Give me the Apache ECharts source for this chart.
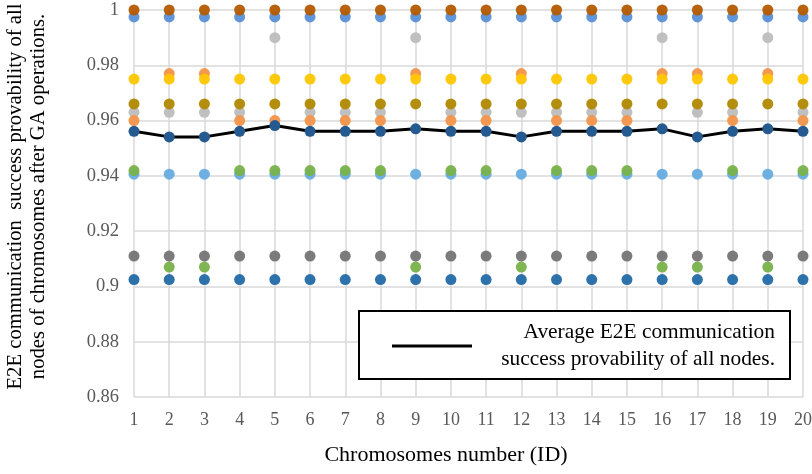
<!DOCTYPE html>
<html>
<head>
<meta charset="utf-8">
<script src="https://cdn.jsdelivr.net/npm/echarts@6/dist/echarts.min.js"></script>
<style>html,body{margin:0;padding:0;background:#fff}#c{width:812px;height:474px}</style>
</head>
<body>
<div id="c"></div>
<script>
const chromosomes = [1,2,3,4,5,6,7,8,9,10,11,12,13,14,15,16,17,18,19,20];
const xTicks = {min: 1, max: 20, interval: 1};
const yTicks = {min: 0.86, max: 1, interval: 0.02};

const seriesTopBlue   = [0.9975,0.9975,0.9975,0.9975,0.9975,0.9975,0.9975,0.9975,0.9975,0.9975,0.9975,0.9975,0.9975,0.9975,0.9975,0.9975,0.9975,0.9975,0.9975,0.9975];
const seriesDarkOrange= [1,1,1,1,1,1,1,1,1,1,1,1,1,1,1,1,1,1,1,1];
const seriesLightGray = [0.963,0.963,0.963,0.963,0.99,0.963,0.963,0.963,0.99,0.963,0.963,0.963,0.963,0.963,0.963,0.99,0.963,0.963,0.99,0.963];
const seriesOrange    = [0.96,0.977,0.977,0.96,0.96,0.96,0.96,0.96,0.977,0.96,0.96,0.977,0.96,0.96,0.96,0.977,0.977,0.96,0.977,0.96];
const seriesOlive     = [0.966,0.966,0.966,0.966,0.966,0.966,0.966,0.966,0.966,0.966,0.966,0.966,0.966,0.966,0.966,0.966,0.966,0.966,0.966,0.966];
const seriesYellow    = [0.975,0.975,0.975,0.975,0.975,0.975,0.975,0.975,0.975,0.975,0.975,0.975,0.975,0.975,0.975,0.975,0.975,0.975,0.975,0.975];
const seriesLightBlue = [0.9406,0.9406,0.9406,0.9406,0.9406,0.9406,0.9406,0.9406,0.9406,0.9406,0.9406,0.9406,0.9406,0.9406,0.9406,0.9406,0.9406,0.9406,0.9406,0.9406];
const seriesGreen     = [0.9419,0.907,0.907,0.9419,0.9419,0.9419,0.9419,0.9419,0.907,0.9419,0.9419,0.907,0.9419,0.9419,0.9419,0.907,0.907,0.9419,0.907,0.9419];
const seriesDarkGray  = [0.911,0.911,0.911,0.911,0.911,0.911,0.911,0.911,0.911,0.911,0.911,0.911,0.911,0.911,0.911,0.911,0.911,0.911,0.911,0.911];
const seriesDarkBlue  = [0.9025,0.9025,0.9025,0.9025,0.9025,0.9025,0.9025,0.9025,0.9025,0.9025,0.9025,0.9025,0.9025,0.9025,0.9025,0.9025,0.9025,0.9025,0.9025,0.9025];
const seriesAverage   = [0.9561,0.9541,0.9541,0.9561,0.9582,0.9561,0.9561,0.9561,0.957,0.9561,0.9561,0.9541,0.9561,0.9561,0.9561,0.957,0.9541,0.9561,0.957,0.9561];

const avgName = 'Average E2E communication\nsuccess provability of all nodes.';
const yTitle = 'E2E communication  success provability of all\nnodes of chromosomes after GA operations.';
const xTitle = 'Chromosomes number (ID)';

const FONT = '"Liberation Serif", "DejaVu Serif", serif';
function pts(arr){ return arr.map((v,i)=>[chromosomes[i], v]); }
function scatter(name, arr, color){
  return {name, type:'scatter', data: pts(arr), symbolSize: 11,
    itemStyle:{color, opacity: 0.95}, silent:true};
}
const chart = echarts.init(document.getElementById('c'), null, {renderer:'canvas'});
chart.setOption({
  animation:false,
  backgroundColor:'#fff',
  grid:{left:134, right:9, top:10, bottom:77, containLabel:false, outerBoundsMode:'none'},
  xAxis:{type:'value', min:xTicks.min, max:xTicks.max, interval:xTicks.interval,
    axisLine:{show:false}, axisTick:{show:false},
    splitLine:{show:true, lineStyle:{color:'#d9d9d9', width:1.5}},
    axisLabel:{color:'#595959', fontFamily:FONT, fontSize:18, margin:14}},
  yAxis:{type:'value', min:yTicks.min, max:yTicks.max, interval:yTicks.interval,
    axisLine:{show:false}, axisTick:{show:false},
    splitLine:{show:true, lineStyle:{color:'#d9d9d9', width:1.5}},
    axisLabel:{color:'#595959', fontFamily:FONT, fontSize:18.5, margin:15},
    name: yTitle, nameLocation:'middle', nameGap:84, nameRotate:90,
    nameTextStyle:{color:'#000', fontFamily:FONT, fontSize:20.7, lineHeight:23, align:'center', padding:[0,0,0,14]}},
  legend:{show:true, right:22, top:311, orient:'horizontal',
    padding:[8, 15, 6, 33], borderColor:'#000', borderWidth:2, backgroundColor:'#fff',
    itemWidth:80, itemHeight:3, itemGap:0,
    data:[{name: avgName, icon:'rect', itemStyle:{color:'#000'}}],
    selectedMode:false,
    textStyle:{fontFamily:FONT, fontSize:21.4, color:'#000', lineHeight:27,
      rich:{a:{width:298, align:'right', fontFamily:FONT, fontSize:21.4, lineHeight:27, color:'#000'}}},
    formatter: function(n){ return n.split('\n').map(s=>'{a|'+s+'}').join('\n'); }
  },
  graphic:[{type:'text', x: 446, y: 455, style:{text:xTitle, fontFamily:FONT, fontSize:22, fill:'#000', align:'center', verticalAlign:'middle'}}],
  series:[
    scatter('s1', seriesTopBlue, '#5a90d8'),
    scatter('s2', seriesDarkOrange, '#b45a00'),
    scatter('s3', seriesLightGray, '#bdbdbd'),
    scatter('s4', seriesOrange, '#f29448'),
    scatter('s5', seriesOlive, '#b08800'),
    scatter('s6', seriesYellow, '#ffc600'),
    scatter('s7', seriesLightBlue, '#67ace2'),
    scatter('s8', seriesGreen, '#78b24a'),
    scatter('s9', seriesDarkBlue, '#236aa6'),
    scatter('s10', seriesDarkGray, '#747474'),
    {name: avgName, type:'line', data: pts(seriesAverage), symbol:'circle', symbolSize:11,
      lineStyle:{color:'#000', width:3}, itemStyle:{color:'#245a90'}, z:5, silent:true}
  ]
});
</script>
</body>
</html>
